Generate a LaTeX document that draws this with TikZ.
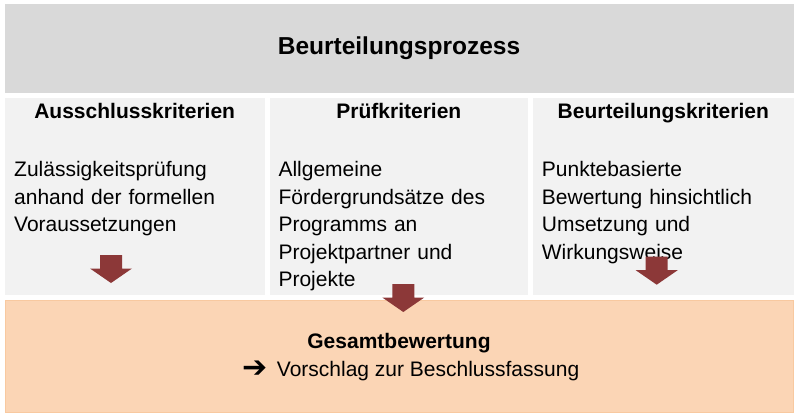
\documentclass[tikz,border=0pt]{standalone}
\usepackage{fontspec}
\setmainfont{Liberation Sans}
\newfontfamily\symfont{DejaVu Sans}
\definecolor{topgray}{HTML}{D9D9D9}
\definecolor{colgray}{HTML}{F2F2F2}
\definecolor{peach}{HTML}{FBD5B5}
\definecolor{peachedge}{HTML}{F8C9A0}
\definecolor{arrowred}{RGB}{140,56,56}
\begin{document}
\begin{tikzpicture}[x=1pt,y=-1pt,
  title/.style={font=\bfseries\fontsize{24.5}{29}\selectfont, anchor=base, inner sep=0pt},
  header/.style={font=\bfseries\fontsize{21}{27.5}\selectfont, anchor=base, inner sep=0pt},
  body/.style={font=\fontsize{21}{27.5}\selectfont, anchor=base west, inner sep=0pt, text width=250pt, align=left},
  downarr/.pic={\fill[arrowred] (-11,0) -- (11,0) -- (11,13.5) -- (21,13.5) -- (0,28) -- (-21,13.5) -- (-11,13.5) -- cycle;}
]
\useasboundingbox (0,0) rectangle (800,415);
\fill[white] (0,0) rectangle (800,415);
% boxes
\fill[topgray] (5,4) rectangle (793.5,92.7);
\fill[colgray] (5,97.7) rectangle (264.5,295);
\fill[colgray] (270,97.7) rectangle (527.7,295);
\fill[colgray] (533,97.7) rectangle (793.5,295);
\filldraw[fill=peach, draw=peachedge, line width=0.8pt] (5,300.5) rectangle (793.5,412);
% texts
\node[title] (t) at (399,54.3) {Beurteilungsprozess};
\node[header] (h1) at (134.7,118.3) {Ausschlusskriterien};
\node[header] (h2) at (398.85,118.3) {Prüfkriterien};
\node[header] (h3) at (663.3,118.3) {Beurteilungskriterien};
\node[body] (b1) at (14,176.7) {Zulässigkeitsprüfung\\anhand der formellen\\Voraussetzungen};
\node[body] (b2) at (278.3,176.7) {Allgemeine\\Fördergrundsätze des\\Programms an\\Projektpartner und\\Projekte};
\node[body] (b3) at (541.7,176.7) {Punktebasierte\\Bewertung hinsichtlich\\Umsetzung und\\Wirkungsweise};
% arrows
\pic at (111,255) {downarr};
\pic at (403.3,284) {downarr};
\pic at (656.7,256.7) {downarr};
% bottom
\node[header] (g) at (399,348.3) {Gesamtbewertung};
\node[inner sep=0pt, font=\symfont\fontsize{30}{30}\selectfont, anchor=center] (ar) at (255.2,369.3) {➔};
\node[inner sep=0pt, font=\fontsize{21}{27.5}\selectfont, anchor=base west] (v) at (276.7,376.7) {Vorschlag zur Beschlussfassung};
\end{tikzpicture}
\end{document}
